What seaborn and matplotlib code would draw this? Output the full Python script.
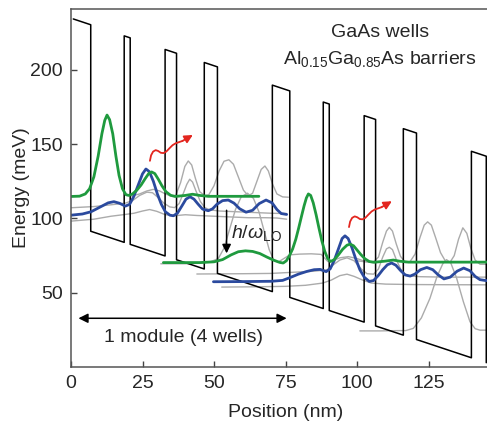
import numpy as np
import matplotlib
matplotlib.use("Agg")
import matplotlib.pyplot as plt
import seaborn as sns

# ---- band profile ----
layers = [6.1, 11.7, 2.1, 12.2, 4.0, 9.7, 4.6, 19.2]   # nm, barrier first
n_modules = 2
last_barrier = 5.2
x_start = 0.8
well_bottom0 = 95.3      # meV at x_start
band_offset = 139.0      # meV
field = 0.64             # meV / nm
period = 69.6
drop = 44.6

# ---- wavefunctions (x in nm, E in meV) ----
green_m1_x = [0, 3, 5, 6.5, 8, 9.5, 10.8, 11.8, 12.6, 13.5, 14.6, 15.7, 16.8, 18, 19.2, 20.2,
              21.5, 23, 24.5, 26, 27.2, 28.2, 29.3, 30.5, 31.8, 33.2, 34.8, 36.4, 40, 42.5, 45, 48, 65.7]
green_m1_E = [114.8, 115.0, 116.5, 120, 128, 142, 157, 166, 169.6, 166.5, 157, 142, 129, 120, 116, 115.5,
              116.5, 119, 122.5, 127, 130.3, 131.3, 130.2, 126.5, 122, 118, 115.6, 114.8, 115.5, 116.3, 115.5, 114.9, 114.9]

green_m2_x = [32.3, 45, 50, 53, 56, 58.5, 61, 63.5, 66, 68.5, 71, 73, 74.2, 75.3, 76.4, 77.5, 78.6, 79.6,
              80.6, 81.5, 82.3, 83.0, 83.8, 84.7, 85.7, 86.7, 87.7, 88.7, 89.7, 90.7, 92, 93.5, 95, 96.5,
              97.6, 98.8, 100, 101.3, 102.8, 104.3, 106, 110, 112.7, 115, 118, 150]
green_m2_E = [70.3, 70.3, 70.8, 72.3, 75.5, 77.6, 78.2, 77.8, 76.4, 74, 71.8, 70.4, 70.0, 71.5, 75, 79.5, 86, 93.5,
              101.5, 108.5, 113.8, 116.5, 115.5, 110.5, 102.5, 93.5, 85, 78, 73.2, 71.0, 72.2, 75.5, 79.3, 82,
              82.7, 81.6, 78.8, 75.8, 72.8, 71, 70.5, 71.3, 72, 71.2, 70.6, 70.6]

blue_m1_x = [0, 4, 7, 10, 13, 15, 17, 19, 20.5, 22, 23.5, 25, 26.2, 27.4, 28.8, 30.2, 31.6, 33, 34.6, 35.8,
             37.2, 38.8, 40.2, 41.6, 43, 44.5, 46, 48, 49.5, 51, 53, 55, 57, 59, 61.2, 63.5, 65.8, 68.2,
             70.3, 72, 73.5, 75.4]
blue_m1_E = [102.2, 103, 104.5, 107.5, 110.5, 111.3, 110.2, 108.3, 109.5, 115, 122.5, 130, 133.3, 131.5, 125,
             116.5, 109.5, 104.5, 102.2, 101.8, 103.5, 108.5, 113, 114.6, 113, 109.5, 106.3, 105.2, 106.5,
             109.5, 112, 112.4, 110.3, 106.5, 104.2, 105.5, 110, 112.4, 110.5, 106, 103.3, 102.7]

blue_m2_x = [49.8, 60, 70, 74, 76.6, 79.5, 82.4, 85, 87.1, 89.2, 90.6, 92, 93.5, 94.8, 95.8, 96.9, 98.2,
             99.6, 101, 102.6, 104.3, 105.8, 107.4, 109, 110.6, 112.1, 113.6, 115.2, 116.8, 118.6, 120.2,
             122.2, 124.4, 126.5, 128.4, 130.4, 132.6, 135, 137.3, 139.5, 141.3, 143, 145, 150]
blue_m2_E = [57.4, 57.5, 57.7, 58.3, 60.2, 62.5, 64.3, 65.5, 65.7, 64.2, 66, 71.5, 79.5, 86.5, 88.3, 86.5, 80.5,
             72.5, 65.5, 60.3, 57.6, 58.2, 61.5, 65.5, 68.8, 70, 68.5, 65, 62, 61.2, 62.5, 65.5, 67, 65.5,
             62, 59.3, 60.5, 64.5, 66.6, 64.8, 61, 58.8, 58.2, 58.2]

gray_curves = [
    ([0, 8, 14, 19, 22, 25, 27.5, 30, 33, 36, 40, 44, 50, 56, 62, 68, 72, 75.4],
     [98.2, 99.5, 101.5, 102.7, 103.5, 105, 106, 104.8, 102.5, 101.8, 102.5, 102, 101.5, 101, 100.5, 100.5, 100.3, 99.5]),
    ([0, 8, 14, 19, 21.5, 24, 26.5, 28.5, 30.5, 32.5, 34.5, 36.2, 37.8, 39.3, 40.5, 41.5, 42.5, 43.8, 45.2,
      46.8, 48.5, 52, 58, 64, 70, 75.4],
     [107.2, 108, 109.2, 110.3, 112, 115.5, 117.7, 117.3, 114, 110.3, 107.8, 107.3, 110, 117, 123, 126.4, 124.5,
      118, 111.5, 107.3, 105.8, 105, 104.5, 104, 103.5, 103.3]),
    ([21, 24, 26.5, 28.8, 31, 33, 34.8, 36.6, 38.3, 39.8, 41, 42.2, 43.5, 45, 46.8, 48.2, 50, 51.8, 53.5, 55.2,
      56.8, 58.5, 60.3, 62, 63.5, 65, 66.5, 67.8, 69, 70.5, 72, 74, 76],
     [115, 116.5, 118.5, 119.6, 118.5, 116.5, 115.2, 115.5, 124, 135, 138.7, 136, 127, 118, 115.3, 116, 122, 132,
      138.5, 139.5, 136.5, 128, 119, 115.2, 117, 125, 133, 135.3, 132, 123, 116.5, 114.5, 114.3]),
    ([31.4, 40, 46, 49, 51.5, 53.5, 55.5, 57.5, 59.5, 61.7, 63.8, 65.8, 67.6, 69.3, 70.8, 72.3, 74, 76.5, 80,
      84, 87.5, 89.8, 91.5, 94, 97, 100, 103, 106],
     [69.5, 69.5, 70, 71, 73, 80, 93, 106, 114.5, 117, 113.5, 104, 91, 79, 72.5, 70.5, 72.5, 75.5, 76, 76.2,
      75.8, 71, 71.5, 73.5, 74.3, 73, 71, 70.3]),
    ([52.7, 65, 75, 82, 88, 91, 94, 96.5, 99, 102, 105, 110, 120, 130, 150],
     [53.8, 54, 54.3, 55, 56.5, 58.5, 61.5, 62.5, 61, 58.5, 56.5, 55.8, 55.5, 55.4, 55.3]),
    ([44, 60, 70, 78, 85, 89.5, 91.5, 94, 96.5, 99, 101.5, 103.5, 105.8, 107.5, 109, 110.3, 111.3, 112.4, 113.8,
      115.5, 117.5, 122, 130, 150],
     [62.6, 62.8, 63, 63.8, 64.5, 65.4, 68.5, 72, 73.5, 71.5, 66, 62.8, 62.5, 66, 74, 79.5, 80.6, 79, 72, 65,
      61.5, 60.8, 60.5, 60.5]),
    ([100, 103, 105.5, 107.5, 109, 110.3, 111.3, 112.4, 113.7, 115.2, 117, 118.5, 120.3, 122, 123.5, 124.7, 126,
      127.5, 129.2, 131, 132.5, 134, 135.5, 137, 138.4, 139.8, 141.3, 143, 150],
     [71.5, 70.8, 70.3, 74, 84, 91.5, 94, 91.5, 83, 74.5, 70.3, 70.8, 76, 87, 95.5, 97.7, 95.5, 87, 77, 71, 70.4,
      75, 86, 93.7, 90, 80, 72, 69.2, 68.9]),
    ([101, 108, 114, 117, 119.7, 122.5, 125.5, 128, 130, 131.3, 132.8, 134.8, 137.2, 139.5, 141.3, 143, 150],
     [24.3, 24.3, 24.5, 24.5, 26, 33, 46.2, 61, 69.5, 72.3, 70, 60, 43.9, 30.5, 25.8, 24.8, 24.8]),
]

# red wavy arrow (module 1; repeated one module later)
red_x = [27.6, 28.0, 28.7, 29.6, 30.5, 31.4, 32.3, 33.3, 34.4, 35.5, 36.6, 37.8, 39.0]
red_E = [138.8, 142.5, 145.0, 146.0, 145.4, 144.2, 144.0, 145.0, 147.2, 149.3, 150.6, 151.4, 152.2]
red_tip = (42.6, 156.2)

# ---- style ----
sns.set_theme(style="ticks")
plt.rcParams['font.family'] = ['Liberation Sans', 'DejaVu Sans']
plt.rcParams['mathtext.fontset'] = 'custom'
plt.rcParams['mathtext.rm'] = 'Liberation Sans'
plt.rcParams['mathtext.it'] = 'Liberation Sans:italic'
txt = '#262626'
green = '#1f9a3e'
blue = '#2b4a9e'
gray = '#ababab'
red = '#e3261f'
fs = 14

fig = plt.figure(figsize=(4.87, 4.22), dpi=100)
ax = fig.add_axes([71 / 487, 55 / 422, 429 / 487, 358 / 422])

# band edge vertices from layer list
thick = layers * n_modules + [last_barrier]
bx, bE = [], []
x = x_start
for i, t in enumerate(thick):
    base0 = well_bottom0 - field * (x - x_start)
    base1 = well_bottom0 - field * (x + t - x_start)
    off = band_offset if i % 2 == 0 else 0.0
    bx += [x, x + t]
    bE += [base0 + off, base1 + off]
    x += t
bx.append(x)
bE.append(well_bottom0 - field * (x - x_start))

for gx, gE in gray_curves:
    sns.lineplot(x=gx, y=gE, sort=False, estimator=None, color=gray, lw=1.0, ax=ax)
sns.lineplot(x=bx, y=bE, sort=False, estimator=None, color='black', lw=1.1, ax=ax)
for xs, Es in [(blue_m1_x, blue_m1_E), (blue_m2_x, blue_m2_E)]:
    sns.lineplot(x=xs, y=Es, sort=False, estimator=None, color=blue, lw=2.0, ax=ax)
for xs, Es in [(green_m1_x, green_m1_E), (green_m2_x, green_m2_E)]:
    sns.lineplot(x=xs, y=Es, sort=False, estimator=None, color=green, lw=2.0, ax=ax)

for m in range(n_modules):
    dx, dE = m * period, -m * drop
    sns.lineplot(x=[v + dx for v in red_x], y=[v + dE for v in red_E], sort=False,
                 estimator=None, color=red, lw=1.3, ax=ax)
    ax.annotate('', xy=(red_tip[0] + dx, red_tip[1] + dE),
                xytext=(red_x[-1] + dx, red_E[-1] + dE),
                arrowprops=dict(arrowstyle='-|>', color=red, lw=1.3, mutation_scale=12,
                                shrinkA=0, shrinkB=0))

# annotations
ax.annotate('', xy=(75.4, 32.8), xytext=(2.6, 32.8),
            arrowprops=dict(arrowstyle='<|-|>', color='black', lw=1.1, mutation_scale=14,
                            shrinkA=0, shrinkB=0))
ax.text(39.2, 16.6, '1 module (4 wells)', ha='center', va='baseline', fontsize=fs, color=txt)
ax.annotate('', xy=(54.4, 76.5), xytext=(54.4, 105.5),
            arrowprops=dict(arrowstyle='-|>', color='black', lw=1.1, mutation_scale=13,
                            shrinkA=0, shrinkB=0))
ax.text(55.8, 86.6, r'$h/\omega_{\mathrm{LO}}$', ha='left', va='baseline', fontsize=14, color=txt)
ax.text(108, 222.3, 'GaAs wells', ha='center', va='baseline', fontsize=fs, color=txt)
ax.text(108, 204, r'Al$_{0.15}$Ga$_{0.85}$As barriers', ha='center', va='baseline',
        fontsize=fs, color=txt)

ax.set_xlim(0, 150)
ax.set_ylim(0, 241)
ax.set_xticks([0, 25, 50, 75, 100, 125])
ax.set_yticks([50, 100, 150, 200])
ax.tick_params(direction='in', length=4, width=1, colors='#444444', labelcolor=txt,
               labelsize=fs, pad=6)
ax.spines['right'].set_visible(False)
for s in ['left', 'top', 'bottom']:
    ax.spines[s].set_color('#555555')
    ax.spines[s].set_linewidth(1.1)
ax.set_xlabel('Position (nm)', fontsize=fs, color=txt, labelpad=8.5)
ax.set_ylabel('Energy (meV)', fontsize=fs, color=txt, labelpad=0)

fig.savefig('out.png', dpi=100)
